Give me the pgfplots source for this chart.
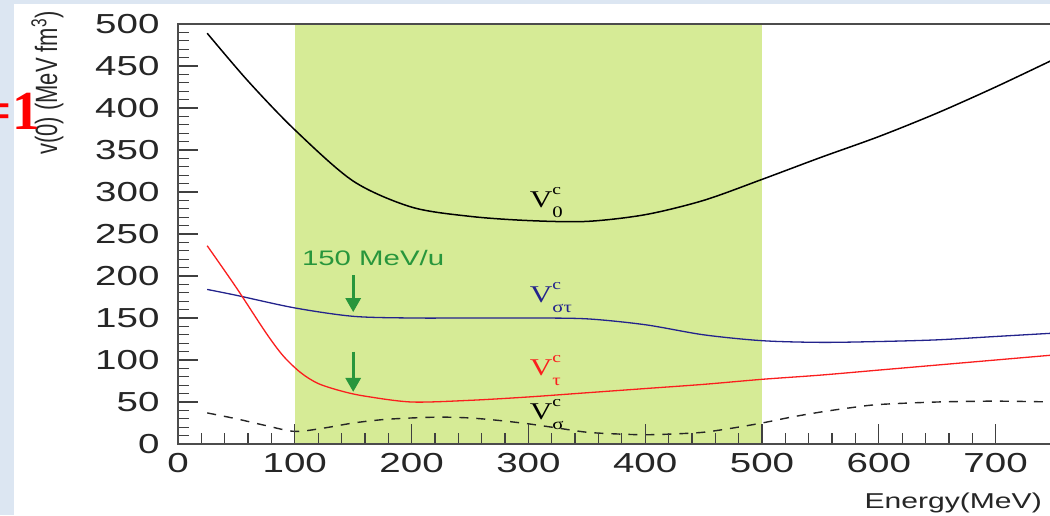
\documentclass[border=0pt]{standalone}
\usepackage{fontspec}
\setmainfont{Liberation Sans}[FakeStretch=1.4]
\newfontfamily\plainsans{Liberation Sans}
\newfontfamily\serif{Liberation Serif}[FakeStretch=1.3]
\newfontfamily\bigserif{Liberation Serif}
\usepackage{graphicx}
\usepackage{pgfplots}
\pgfplotsset{compat=1.18}
\usetikzlibrary{arrows.meta}
\definecolor{bgblue}{RGB}{220,230,242}
\definecolor{band}{RGB}{214,235,150}
\definecolor{navy}{RGB}{35,35,140}
\definecolor{vred}{RGB}{250,30,30}
\definecolor{agreen}{RGB}{40,150,60}
\newcommand\Vc[1]{V\kern0pt\rlap{\raisebox{13pt}{\fontsize{15}{15}\selectfont c}}\raisebox{-10pt}{\fontsize{16}{16}\selectfont #1}}
\begin{document}
\begin{tikzpicture}
\useasboundingbox (0pt,0pt) rectangle (1050pt,515pt);
\fill[bgblue] (0pt,0pt) rectangle (1050pt,515pt);
\fill[white] (14pt,0pt) rectangle (1050pt,511pt);
\begin{axis}[
  at={(178pt,71pt)}, anchor=south west,
  scale only axis, width=934.4pt, height=420pt,
  xmin=0, xmax=800, ymin=0, ymax=500,
  tick pos=left, tick align=inside,
  xtick={0,100,...,700}, minor x tick num=4,
  ytick={0,50,...,500}, minor y tick num=4,
  major tick length=20pt, minor tick length=11pt,
  every tick/.style={line width=1.3pt, black!75},
  axis line style={line width=1.8pt, black!70},
  axis on top,
  clip mode=individual,
  /pgf/number format/assume math mode=true,
  ticklabel style={font=\fontsize{27.5}{27.5}\selectfont, text=black!85},
  yticklabel style={xshift=-15pt},
  xticklabel style={yshift=-6pt},
]
\fill[band] (axis cs:100,0) rectangle (axis cs:500,500);
% V0 (black)
\addplot[black, line width=1.5pt, smooth] coordinates {
(25,489) (60,432) (100,374) (150,313) (200,282) (250,271) (300,266) (350,265)
(400,273) (450,290) (500,315) (550,341) (600,366) (650,394) (700,425) (750,458)};
% V sigma tau (blue)
\addplot[navy, line width=1.3pt, smooth] coordinates {
(25,184) (50,177) (100,162) (150,152) (200,150) (250,150) (300,150) (350,149)
(400,142) (450,130) (500,123) (550,121) (600,122) (650,124) (700,128) (750,132)};
% V tau (red)
\addplot[vred, line width=1.3pt, smooth] coordinates {
(25,236) (50,186) (75,133) (90,105) (105,85) (120,72) (140,63) (160,57) (200,50) (250,52)
(300,56) (350,61) (400,66) (450,71) (500,77) (550,82) (600,88) (650,94) (700,100) (750,106)};
% V sigma (dashed)
\addplot[black!85, line width=1.4pt, dash pattern=on 9pt off 8pt, smooth] coordinates {
(25,37) (50,30) (75,22) (100,15) (125,19) (150,25) (175,29) (200,31) (225,32) (250,31)
(275,28) (300,24) (325,19) (350,14) (375,12) (400,11) (425,12) (450,14) (475,19)
(500,25) (525,32) (550,38) (575,43) (600,47) (650,50) (700,51) (750,50)};
\node[anchor=base west, inner sep=0, font=\serif\fontsize{24}{24}\selectfont] at (axis cs:301,281) {\Vc{0}};
\node[anchor=base west, inner sep=0, text=navy, font=\serif\fontsize{24}{24}\selectfont] at (axis cs:301,169) {\Vc{στ}};
\node[anchor=base west, inner sep=0, text=vred, font=\serif\fontsize{24}{24}\selectfont] at (axis cs:301,82) {\Vc{τ}};
\node[anchor=base west, inner sep=0, font=\serif\fontsize{24}{24}\selectfont] at (axis cs:301,29) {\Vc{σ}};
\node[anchor=base west, inner sep=0, text=agreen, font=\fontsize{21}{21}\selectfont] at (axis cs:106,213) {150 MeV/u};
\draw[agreen, line width=3pt, -{Triangle[width=15pt,length=14pt]}] (axis cs:150,201) -- (axis cs:150,157);
\draw[agreen, line width=3pt, -{Triangle[width=15pt,length=14pt]}] (axis cs:150,110) -- (axis cs:150,62);
\end{axis}
\node[anchor=base east, inner sep=0, font=\fontsize{21.5}{21.5}\selectfont, text=black!85] at (1042pt,7pt) {Energy(MeV)};
\node[rotate=90, yscale=1.4, anchor=base west, inner sep=0, font=\plainsans\fontsize{22}{22}\selectfont, text=black!85] at (57pt,360pt) {v(0) (MeV fm\textsuperscript{3})};
\node[anchor=base east, inner sep=0, text=red, font=\bigserif\bfseries\fontsize{55}{55}\selectfont] at (40pt,385pt) {=1};
\end{tikzpicture}
\end{document}
